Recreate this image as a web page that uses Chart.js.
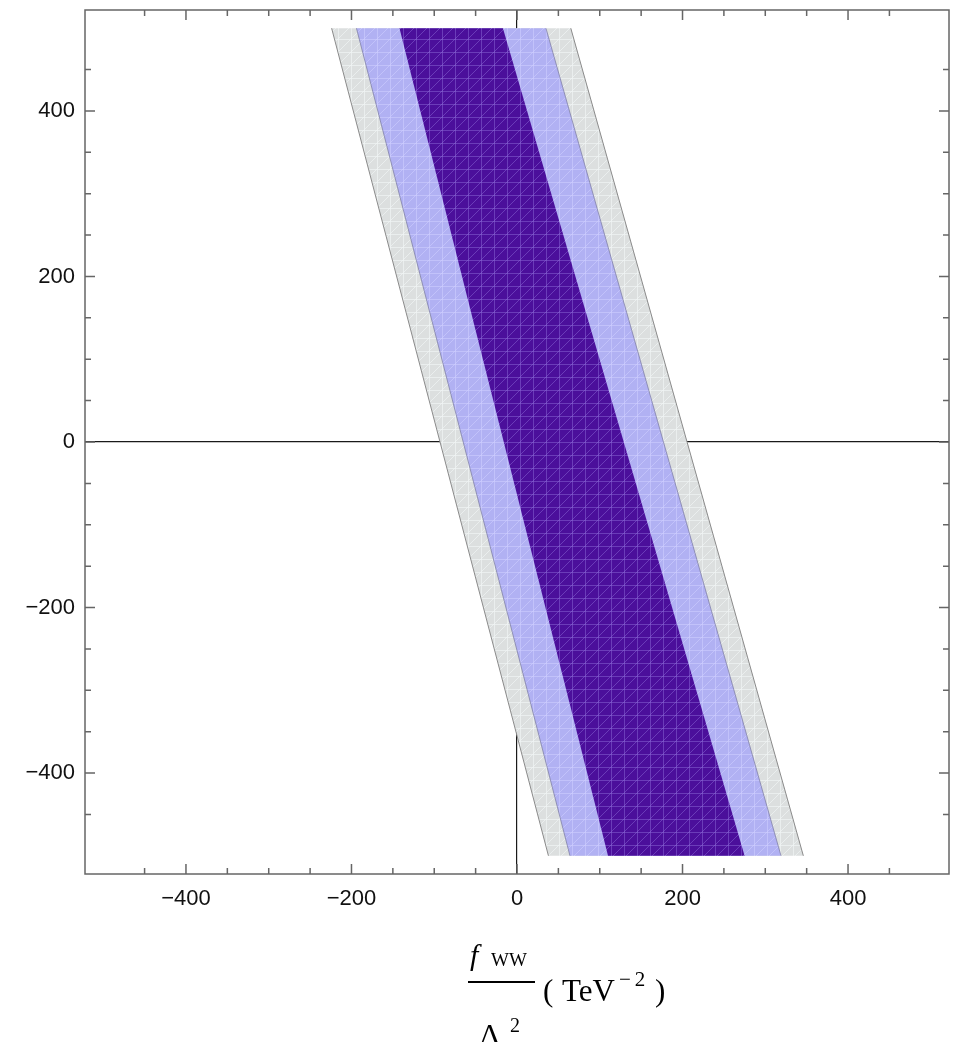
<!DOCTYPE html>
<html>
<head>
<meta charset="utf-8">
<script src="https://cdn.jsdelivr.net/npm/chart.js@4"></script>
<style>
  body { margin: 0; background: #fff; }
  #wrap { position: relative; width: 960px; height: 1042px; overflow: hidden; }
  #wrap canvas { position: absolute; left: 0; top: 0; }
  .t { position: absolute; font-family: 'Liberation Serif', 'DejaVu Serif', serif; color: #000; line-height: 1; white-space: nowrap; }
</style>
</head>
<body>
<div id="wrap">
  <canvas id="chart" width="960" height="1042"></canvas>
  <!-- x axis title: f_WW / Lambda^2 (TeV^-2) -->
  <span class="t" style="left:470px; top:940px; font-size:30px; font-style:italic;">f</span>
  <span class="t" style="left:491px; top:950px; font-size:19px;">WW</span>
  <div style="position:absolute; left:468px; top:981px; width:67px; height:2px; background:#000;"></div>
  <span class="t" style="left:479px; top:1019px; font-size:30px;">Λ</span>
  <span class="t" style="left:510px; top:1015px; font-size:20px;">2</span>
  <span class="t" style="left:543px; top:975px; font-size:31px;">(</span>
  <span class="t" style="left:562px; top:975px; font-size:31px;">TeV</span>
  <span class="t" style="left:619px; top:969px; font-size:21px; letter-spacing:4px;">−2</span>
  <span class="t" style="left:655px; top:975px; font-size:31px;">)</span>
</div>
<script>
// band edges: value at y = +500 and y = -500
const yEnds = [500, -500];
const outerLeft = [-224, 38];
const outerRight = [65, 346];
const midLeft = [-194, 64];
const midRight = [35, 319];
const innerLeft = [-142, 110];
const innerRight = [-17, 275];

const majorTicks = [-400, -200, 0, 200, 400];
const axisMin = -522, axisMax = 522;

const band = (l, r) => [
    { x: l[0], y: yEnds[0] },
    { x: r[0], y: yEnds[0] },
    { x: r[1], y: yEnds[1] },
    { x: l[1], y: yEnds[1] },
    { x: l[0], y: yEnds[0] }
];
const edge = e => [{ x: e[0], y: yEnds[0] }, { x: e[1], y: yEnds[1] }];

// Mathematica-ish mesh fill
function mesh(base, line) {
    const c = document.createElement('canvas');
    c.width = c.height = 13;
    const g = c.getContext('2d');
    g.fillStyle = base;
    g.fillRect(0, 0, 13, 13);
    g.strokeStyle = line;
    g.lineWidth = 1;
    g.beginPath();
    g.moveTo(0.5, 0); g.lineTo(0.5, 13);
    g.moveTo(0, 0.5); g.lineTo(13, 0.5);
    g.moveTo(0, 13); g.lineTo(13, 0);
    g.stroke();
    return g.createPattern(c, 'repeat');
}

const fillSet = (data, bg, order) => ({
    data, order,
    showLine: true, fill: 'shape',
    backgroundColor: bg, borderColor: 'transparent', borderWidth: 0,
    pointRadius: 0, tension: 0
});
const edgeSet = (data, color) => ({
    data, order: 1,
    showLine: true, fill: false,
    borderColor: color, borderWidth: 1,
    pointRadius: 0, tension: 0
});

// inward ticks on all four sides + frame
const frameTicks = {
    id: 'frameTicks',
    afterDraw(chart) {
        const { ctx, chartArea: a, scales: { x, y } } = chart;
        ctx.save();
        ctx.strokeStyle = '#666';
        ctx.lineWidth = 1.5;
        ctx.strokeRect(a.left, a.top, a.right - a.left, a.bottom - a.top);
        ctx.beginPath();
        x.ticks.forEach(t => {
            if (t.value % 50 !== 0) return;
            const len = t.value % 200 === 0 ? 10 : 6;
            const p = x.getPixelForValue(t.value);
            ctx.moveTo(p, a.bottom); ctx.lineTo(p, a.bottom - len);
            ctx.moveTo(p, a.top); ctx.lineTo(p, a.top + len);
        });
        y.ticks.forEach(t => {
            if (t.value % 50 !== 0) return;
            const len = t.value % 200 === 0 ? 10 : 6;
            const p = y.getPixelForValue(t.value);
            ctx.moveTo(a.left, p); ctx.lineTo(a.left + len, p);
            ctx.moveTo(a.right, p); ctx.lineTo(a.right - len, p);
        });
        ctx.stroke();
        ctx.restore();
    }
};

const tickLabel = v => majorTicks.includes(v) ? (v < 0 ? '\u2212' + (-v) : String(v)) : '';
const zeroLine = c => (c.tick && c.tick.value === 0) ? '#1a1a1a' : 'rgba(0,0,0,0)';
const tickFont = { family: "'Liberation Sans', Arial, sans-serif", size: 22 };

new Chart(document.getElementById('chart'), {
    type: 'scatter',
    data: {
        datasets: [
            fillSet(band(outerLeft, outerRight), mesh('#dcdfdf', 'rgba(240,243,243,0.7)'), 10),
            fillSet(band(midLeft, midRight), mesh('#b1b1f3', 'rgba(205,205,255,0.6)'), 9),
            fillSet(band(innerLeft, innerRight), mesh('#4b0f9b', 'rgba(140,105,215,0.5)'), 8),
            edgeSet(edge(outerLeft), '#8a8a8a'),
            edgeSet(edge(outerRight), '#8a8a8a'),
            edgeSet(edge(midLeft), 'rgba(120,120,160,0.7)'),
            edgeSet(edge(midRight), 'rgba(120,120,160,0.7)')
        ]
    },
    options: {
        responsive: false,
        animation: false,
        layout: { padding: { top: 10, right: 11, left: 0, bottom: 0 } },
        plugins: { legend: { display: false }, tooltip: { enabled: false } },
        scales: {
            x: {
                type: 'linear', min: axisMin, max: axisMax, z: 1,
                afterFit: s => { s.height = 168; s.paddingLeft = 0; s.paddingRight = 0; },
                border: { display: false },
                grid: { color: zeroLine, lineWidth: 1.2, drawTicks: false },
                ticks: { stepSize: 50, autoSkip: false, maxRotation: 0, padding: 12,
                         color: '#111', font: tickFont, callback: tickLabel }
            },
            y: {
                type: 'linear', min: axisMin, max: axisMax, z: 1,
                afterFit: s => { s.width = 85; s.paddingTop = 0; s.paddingBottom = 0; },
                border: { display: false },
                grid: { color: zeroLine, lineWidth: 1.2, drawTicks: false },
                ticks: { stepSize: 50, autoSkip: false, padding: 10,
                         color: '#111', font: tickFont, callback: tickLabel }
            }
        }
    },
    plugins: [frameTicks]
});
</script>
</body>
</html>
